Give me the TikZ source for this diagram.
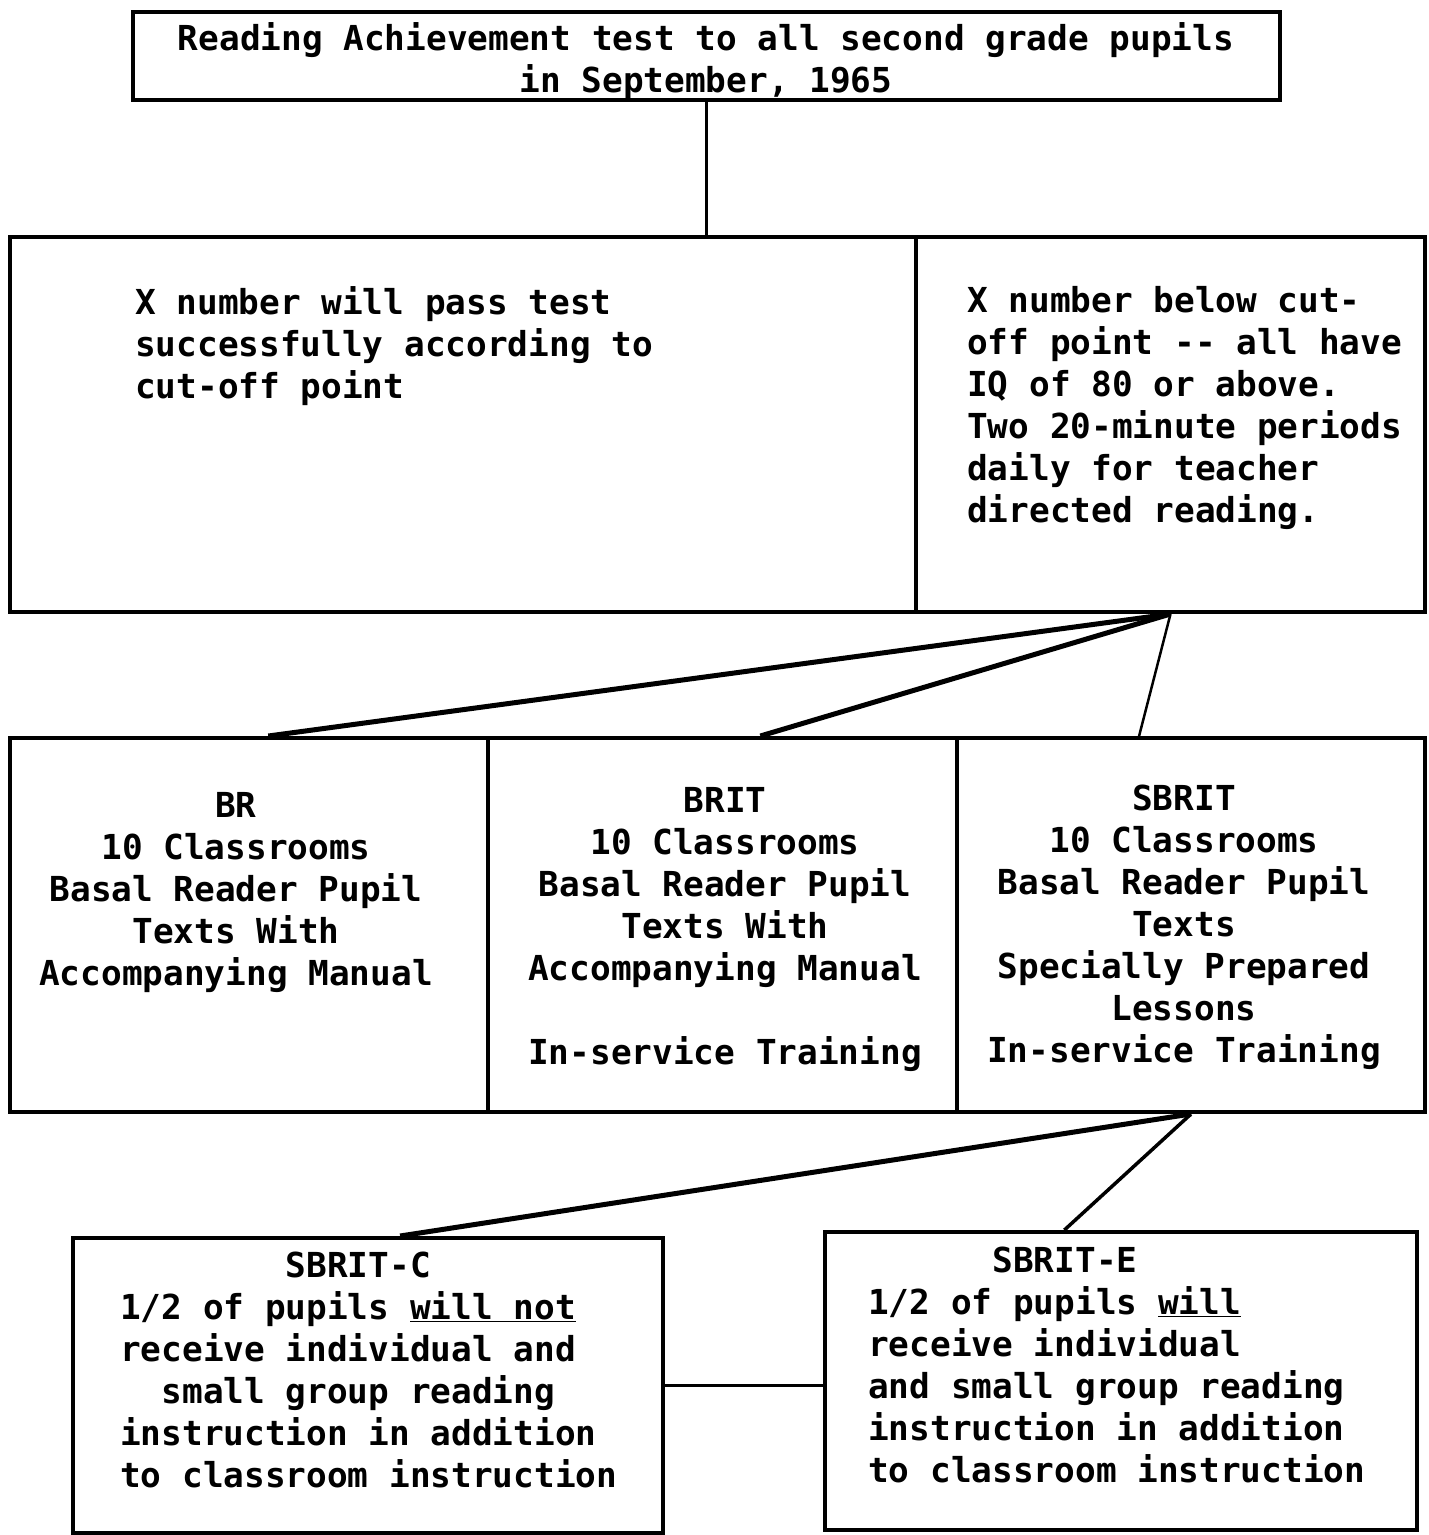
\documentclass[tikz,border=0pt]{standalone}
\usepackage{fontspec}
\setmonofont{DejaVu Sans Mono}
\usetikzlibrary{fit,calc}
\tikzset{
  box/.style={draw, line width=4pt, inner sep=0pt},
  txt/.style={font=\ttfamily\bfseries\fontsize{34.4}{42}\selectfont, inner sep=0pt},
  linkA/.style={line width=5pt},
  linkB/.style={line width=2.5pt},
  linkC/.style={line width=3.5pt}
}
\begin{document}
\begin{tikzpicture}[x=1pt,y=-1pt]
\useasboundingbox (0,0) rectangle (1428,1535);
% boxes
\node[box, fit={(133,12) (1280,100)}] (top) {};
\node[box, fit={(10,237) (916,612)}] (pass) {};
\node[box, fit={(916,237) (1425,612)}] (below) {};
\node[box, fit={(10,738) (488,1112)}] (br) {};
\node[box, fit={(488,738) (957,1112)}] (brit) {};
\node[box, fit={(957,738) (1425,1112)}] (sbrit) {};
\node[box, fit={(73,1238) (663,1533)}] (c) {};
\node[box, fit={(825,1232) (1417,1530)}] (e) {};
% texts
\node[txt, align=center, anchor=north] (toptxt) at (706,21)
  {\strut Reading Achievement test to all second grade pupils\\in September, 1965};
\node[txt, align=left, anchor=north west] (passtxt) at (135,285)
  {\strut X number will pass test\\successfully according to\\cut-off point};
\node[txt, align=left, anchor=north west] (belowtxt) at (967,283)
  {\strut X number below cut-\\off point -{}- all have\\IQ of 80 or above.\\Two 20-minute periods\\daily for teacher\\directed reading.};
\node[txt, align=center, anchor=north] (brtxt) at (236,788)
  {\strut BR\\10 Classrooms\\Basal Reader Pupil\\Texts With\\Accompanying Manual};
\node[txt, align=center, anchor=north] (brittxt) at (725,783)
  {\strut BRIT\\10 Classrooms\\Basal Reader Pupil\\Texts With\\Accompanying Manual\\\mbox{}\\In-service Training};
\node[txt, align=center, anchor=north] (sbrittxt) at (1184,781)
  {\strut SBRIT\\10 Classrooms\\Basal Reader Pupil\\Texts\\Specially Prepared\\Lessons\\In-service Training};
\node[txt, align=left, anchor=north west] (ctxt) at (120,1248)
  {\strut\hspace*{4.816em}SBRIT-C\\1/2 of pupils \underline{will not}\\receive individual and\\\hspace*{1.204em}small group reading\\instruction in addition\\to classroom instruction};
\node[txt, align=left, anchor=north west] (etxt) at (868,1243)
  {\strut\hspace*{3.612em}SBRIT-E\\1/2 of pupils \underline{will}\\receive individual\\and small group reading\\instruction in addition\\to classroom instruction};
% connectors
\draw[linkC] (top.south) -- (top.south |- pass.north);
\draw[linkA] (below.south) -- ($(br.north west)!0.54!(br.north east)$);
\draw[linkA] (below.south) -- ($(brit.north west)!0.58!(brit.north east)$);
\draw[linkB] (below.south) -- ($(sbrit.north west)!0.39!(sbrit.north east)$);
\draw[linkA] (sbrit.south) -- ($(c.north west)!0.554!(c.north east)$);
\draw[linkC] (sbrit.south) -- ($(e.north west)!0.405!(e.north east)$);
\draw[linkC] (c.east) -- (c.east -| e.west);
\end{tikzpicture}
\end{document}
